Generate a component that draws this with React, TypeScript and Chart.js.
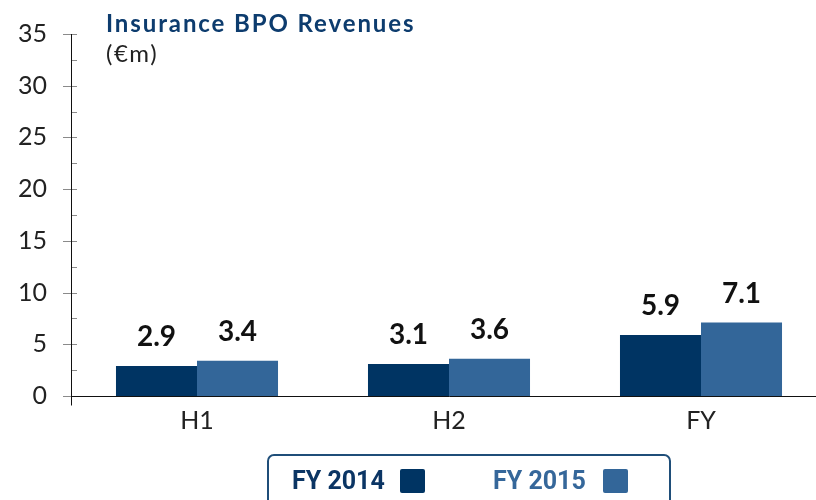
import React, { useEffect, useRef } from "react";
import { Chart, registerables } from "chart.js";
Chart.register(...registerables);

const categories = ["H1", "H2", "FY"];
const fy2014 = [2.9, 3.1, 5.9];
const fy2015 = [3.4, 3.6, 7.1];
const seriesNames = ["FY 2014", "FY 2015"];
const seriesColors = ["#003463", "#336699"];
const yMin = 0;
const yMax = 35;
const yStep = 5;
const titleText = "Insurance BPO Revenues";
const unitText = "(€m)";

const axisPlugin = {
  id: "axisAndLabels",
  afterDraw(chart: any) {
    const ctx = chart.ctx;
    const y = chart.scales.y;
    const x = chart.scales.x;
    const left = chart.chartArea.left;
    ctx.save();
    // ticks
    ctx.strokeStyle = "#8a8a8a";
    ctx.lineWidth = 1;
    for (let v = yMin; v <= yMax; v += yStep / 2) {
      const py = Math.round(y.getPixelForValue(v)) + 0.5;
      const major = Math.abs(v / yStep - Math.round(v / yStep)) < 1e-6;
      ctx.beginPath();
      if (major) {
        ctx.moveTo(left - 8, py);
        ctx.lineTo(v === yMin ? left : left + 6, py);
      } else {
        ctx.moveTo(left, py);
        ctx.lineTo(left + 6, py);
      }
      ctx.stroke();
    }
    // axes
    ctx.strokeStyle = "#111";
    const ax = Math.round(left) + 0.5;
    const zeroY = Math.round(y.getPixelForValue(0)) + 0.5;
    ctx.beginPath();
    ctx.moveTo(ax, y.getPixelForValue(yMax));
    ctx.lineTo(ax, zeroY + 9);
    ctx.stroke();
    ctx.beginPath();
    ctx.moveTo(ax, zeroY);
    ctx.lineTo(x.right, zeroY);
    ctx.stroke();
    // value labels
    ctx.fillStyle = "#111";
    ctx.font = "bold 28px Lato";
    ctx.textAlign = "center";
    ctx.textBaseline = "alphabetic";
    chart.data.datasets.forEach((ds: any, i: number) => {
      const meta = chart.getDatasetMeta(i);
      meta.data.forEach((el: any, j: number) => {
        ctx.fillText(Number(ds.data[j]).toFixed(1), el.x, el.y - 20);
      });
    });
    ctx.restore();
  },
};

export default function App() {
  const ref = useRef<HTMLCanvasElement>(null);
  useEffect(() => {
    if (!ref.current) return;
    const chart = new Chart(ref.current, {
      type: "bar",
      data: {
        labels: categories,
        datasets: [
          { label: seriesNames[0], data: fy2014, backgroundColor: seriesColors[0], barPercentage: 1, categoryPercentage: 0.643 },
          { label: seriesNames[1], data: fy2015, backgroundColor: seriesColors[1], barPercentage: 1, categoryPercentage: 0.643 },
        ],
      },
      options: {
        responsive: false,
        animation: false,
        devicePixelRatio: 1,
        layout: { padding: { left: 0, right: 0, top: 34, bottom: 0 } },
        plugins: { legend: { display: false }, tooltip: { enabled: false }, title: { display: false } },
        scales: {
          x: {
            grid: { display: false, drawTicks: false },
            border: { display: false },
            ticks: { color: "#222", font: { family: "Lato", size: 25 }, padding: 10 },
            afterFit: (s: any) => { s.height = 104; s.paddingLeft = 0; s.paddingRight = 0; },
          },
          y: {
            min: yMin,
            max: yMax,
            grid: { display: false, drawTicks: false },
            border: { display: false },
            ticks: { stepSize: yStep, color: "#222", font: { family: "Lato", size: 25 }, padding: 24 },
            afterFit: (s: any) => { s.width = 71; s.paddingTop = 0; s.paddingBottom = 0; },
          },
        },
      },
      plugins: [axisPlugin],
    });
    return () => chart.destroy();
  }, []);

  return (
    <div style={{ position: "fixed", left: 0, top: 0, width: 816, height: 500, overflow: "hidden", background: "#fff" }}>
      <canvas ref={ref} width={827} height={500} style={{ position: "absolute", left: 0, top: 0, width: 827, height: 500 }} />
      <div style={{ position: "absolute", left: 106, top: 8, font: "bold 24px Lato", letterSpacing: "1.9px", color: "#0d3c6e", whiteSpace: "nowrap" }}>{titleText}</div>
      <div style={{ position: "absolute", left: 106, top: 38, font: "24px Lato", letterSpacing: "1.5px", color: "#222", whiteSpace: "nowrap" }}>{unitText}</div>
      <div style={{ position: "absolute", left: 267, top: 454, width: 404, height: 70, border: "2px solid #1f4e79", borderRadius: 7, boxSizing: "border-box" }}>
        <div style={{ position: "absolute", left: 23, top: 10, font: "bold 25px Roboto", color: "#0b3564", whiteSpace: "nowrap" }}>{seriesNames[0]}</div>
        <div style={{ position: "absolute", left: 131, top: 13, width: 25, height: 24, background: seriesColors[0], borderRadius: 2 }} />
        <div style={{ position: "absolute", left: 224, top: 10, font: "bold 25px Roboto", color: "#35679a", whiteSpace: "nowrap" }}>{seriesNames[1]}</div>
        <div style={{ position: "absolute", left: 334, top: 13, width: 25, height: 24, background: seriesColors[1], borderRadius: 2 }} />
      </div>
    </div>
  );
}
